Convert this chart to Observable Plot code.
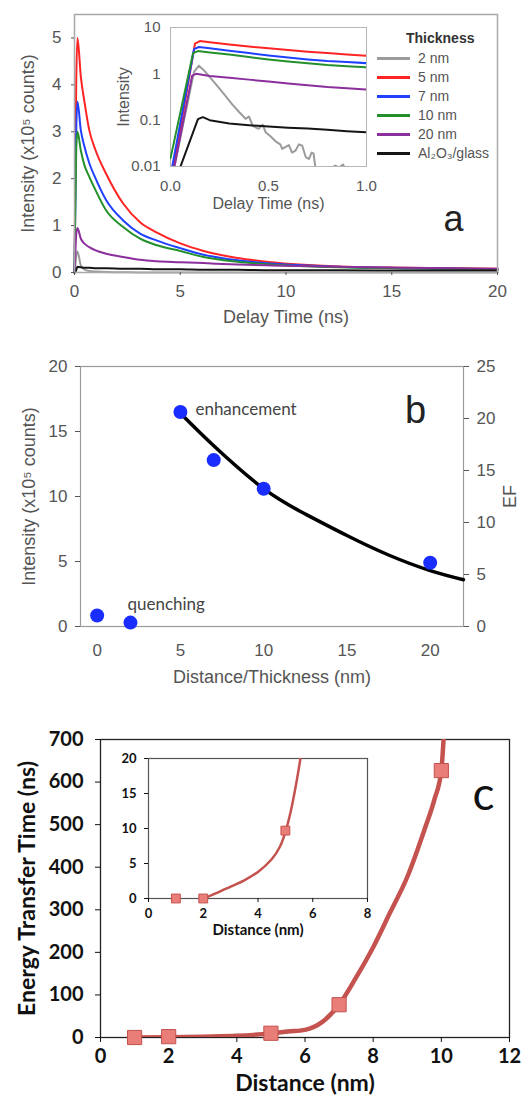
<!DOCTYPE html>
<html><head><meta charset="utf-8">
<script src="https://cdn.jsdelivr.net/npm/d3@7"></script>
<script src="https://cdn.jsdelivr.net/npm/@observablehq/plot@0.6"></script>
<style>
body{margin:0;background:#fff;}
#fig{position:relative;width:521px;height:1097px;overflow:hidden;background:#fff;}
.lg{position:absolute;font-family:"Liberation Sans",Arial,sans-serif;font-size:14px;color:#555;white-space:nowrap;line-height:16px;}
.lgline{position:absolute;height:3px;}
</style></head><body><div id="fig"></div>
<script>
// ---------- Panel a (main): decay curves, intensity x10^5 counts ----------
const seriesA = ["2 nm", "5 nm", "7 nm", "10 nm", "20 nm", "Al₂O₃/glass"];
const colorsA = ["#9b9b9b", "#ff2424", "#2040ff", "#24902c", "#8b2f9c", "#151515"];
const timeA = [0, 0.03, 0.08, 0.14, 0.3, 0.46, 0.7, 1.0, 1.5, 2.3, 3.1, 3.9, 5.0, 6.1, 7.7, 9.3, 12.5, 15.6, 20];
const nm2A   = [0, 0.1, 0.35, 0.45, 0.15, 0.07, 0.03, 0.02, 0.01, 0.005, 0, 0, 0, 0, 0, 0, 0, 0, 0];
const nm5A   = [0, 1.5, 4.0, 5.0, 4.17, 3.67, 3.03, 2.6, 2.1, 1.47, 1.07, 0.85, 0.62, 0.46, 0.31, 0.22, 0.13, 0.1, 0.08];
const nm7A   = [0, 1.2, 3.0, 3.64, 3.03, 2.7, 2.33, 2.0, 1.54, 1.11, 0.83, 0.68, 0.52, 0.38, 0.26, 0.19, 0.12, 0.09, 0.07];
const nm10A  = [0, 1.0, 2.6, 3.0, 2.6, 2.3, 2.04, 1.75, 1.32, 0.97, 0.72, 0.58, 0.46, 0.33, 0.23, 0.17, 0.11, 0.09, 0.07];
const nm20A  = [0, 0.3, 0.8, 0.95, 0.72, 0.62, 0.54, 0.47, 0.4, 0.33, 0.27, 0.24, 0.22, 0.2, 0.17, 0.15, 0.12, 0.1, 0.08];
const glassA = [0, 0, 0.05, 0.12, 0.11, 0.1, 0.1, 0.09, 0.09, 0.08, 0.08, 0.07, 0.07, 0.06, 0.06, 0.05, 0.05, 0.04, 0.04];
const xTicksA = [0, 5, 10, 15, 20];
const yTicksA = [0, 1, 2, 3, 4, 5];

// ---------- Panel a (inset): log intensity, 0-1 ns ----------
const nm2InT  = [0.02, 0.12, 0.145, 0.17, 0.23, 0.27, 0.315, 0.35, 0.383, 0.40, 0.42, 0.45, 0.47, 0.485, 0.51, 0.536, 0.56, 0.57, 0.604, 0.62, 0.638, 0.655, 0.672, 0.69, 0.706, 0.72, 0.73, 0.74, 0.82, 0.84, 0.86, 0.88, 0.9];
const nm2InV  = [0.01, 1.1, 1.5, 1.2, 0.61, 0.38, 0.22, 0.15, 0.107, 0.12, 0.075, 0.065, 0.08, 0.055, 0.045, 0.035, 0.03, 0.024, 0.029, 0.02, 0.022, 0.03, 0.028, 0.016, 0.0145, 0.02, 0.019, 0.009, 0.009, 0.0105, 0.0095, 0.011, 0.008];
const nm5InT  = [0.017, 0.125, 0.15, 0.2, 0.3, 0.4, 0.5, 0.6, 0.7, 0.8, 0.9, 1.0];
const nm5InV  = [0.01, 4.5, 5.1, 4.8, 4.3, 3.9, 3.55, 3.25, 3.0, 2.8, 2.6, 2.45];
const nm7InT  = [0.009, 0.12, 0.145, 0.2, 0.3, 0.4, 0.5, 0.6, 0.7, 0.8, 0.9, 1.0];
const nm7InV  = [0.01, 3.4, 3.8, 3.55, 3.15, 2.8, 2.5, 2.25, 2.05, 1.9, 1.8, 1.7];
const nm10InT = [0.0, 0.115, 0.14, 0.2, 0.3, 0.4, 0.5, 0.6, 0.7, 0.8, 0.9, 1.0];
const nm10InV = [0.015, 2.8, 3.1, 2.9, 2.6, 2.3, 2.05, 1.85, 1.7, 1.55, 1.45, 1.38];
const nm20InT = [0.02, 0.11, 0.13, 0.2, 0.3, 0.4, 0.5, 0.6, 0.7, 0.8, 0.9, 1.0];
const nm20InV = [0.01, 0.9, 1.0, 0.9, 0.82, 0.75, 0.68, 0.62, 0.57, 0.52, 0.49, 0.46];
const glassInT = [0.051, 0.14, 0.165, 0.2, 0.3, 0.4, 0.5, 0.6, 0.7, 0.8, 0.9, 1.0];
const glassInV = [0.01, 0.105, 0.116, 0.1, 0.085, 0.078, 0.073, 0.069, 0.066, 0.062, 0.058, 0.055];
const xTicksIn = [0, 0.5, 1.0];
const yTicksIn = [0.01, 0.1, 1, 10];

// ---------- Panel b ----------
const distB = [0, 2, 5, 7, 10, 20];
const intensityB = [0.85, 0.3, 16.5, 12.8, 10.6, 4.9];
const noteB = ["", "quenching", "enhancement", "", "", ""];
const fitXB = [5, 7, 10, 12.5, 15, 17.5, 20, 22];
const fitYB = [16.4, 13.9, 10.6, 8.65, 7.0, 5.5, 4.3, 3.6];
const xTicksB = [0, 5, 10, 15, 20];
const yTicksB = [0, 5, 10, 15, 20];
const efTicksB = [0, 5, 10, 15, 20, 25];

// ---------- Panel c ----------
const distC = [1, 2, 5, 7, 10];
const timeC = [0, 2, 10, 77, 627];
const fitXC = [1, 2, 3, 4, 5, 5.5, 6, 6.5, 7, 7.5, 8, 8.5, 9, 9.5, 9.8, 10, 10.05, 10.08];
const fitYC = [0, 0.5, 2, 4, 9.7, 14, 18, 36, 77, 141, 212, 294, 377, 487, 560, 627, 680, 720];
const xTicksC = [0, 2, 4, 6, 8, 10, 12];
const yTicksC = [0, 100, 200, 300, 400, 500, 600, 700];
// inset c
const distCin = [1, 2, 5];
const timeCin = [0, 0, 9.7];
const fitXCin = [2, 2.5, 3, 3.5, 4, 4.5, 4.8, 5, 5.2, 5.4, 5.55];
const fitYCin = [0, 0.8, 1.7, 2.6, 3.8, 5.6, 7.4, 9.5, 12.5, 16.5, 20];
const xTicksCin = [0, 2, 4, 6, 8];
const yTicksCin = [0, 5, 10, 15, 20];

// ---------- build tables ----------
const valuesA = [nm2A, nm5A, nm7A, nm10A, nm20A, glassA];
const dataA = [];
seriesA.forEach((s, i) => timeA.forEach((t, j) => dataA.push({s, t, v: valuesA[i][j]})));
const inT = [nm2InT, nm5InT, nm7InT, nm10InT, nm20InT, glassInT];
const inV = [nm2InV, nm5InV, nm7InV, nm10InV, nm20InV, glassInV];
const dataIn = [];
seriesA.forEach((s, i) => inT[i].forEach((t, j) => dataIn.push({s, t, v: inV[i][j]})));
const pointsB = distB.map((x, i) => ({x, y: intensityB[i], note: noteB[i]}));
const fitB = fitXB.map((x, i) => ({x, y: fitYB[i]}));
const pointsC = distC.map((x, i) => ({x, y: timeC[i]}));
const fitC = fitXC.map((x, i) => ({x, y: fitYC[i]}));
const pointsCin = distCin.map((x, i) => ({x, y: timeCin[i]}));
const fitCin = fitXCin.map((x, i) => ({x, y: fitYCin[i]}));

const fig = document.getElementById("fig");
function place(el, left, top) {
  el.style.position = "absolute"; el.style.left = left + "px"; el.style.top = top + "px";
  fig.appendChild(el);
}
const SANS = '"Liberation Sans", Arial, sans-serif';
const colorA = {domain: seriesA, range: colorsA};

// Panel a main
place(Plot.plot({
  width: 521, height: 330, marginLeft: 74, marginRight: 24, marginTop: 14, marginBottom: 58,
  style: {fontFamily: SANS, fontSize: "17px", color: "#555", background: "white", overflow: "visible"},
  x: {domain: [0, 20]}, y: {domain: [0, 5.5]}, color: colorA,
  marks: [
    Plot.line(dataA, {x: "t", y: "v", z: "s", stroke: "s", strokeWidth: 2, curve: "monotone-x"}),
    Plot.frame({stroke: "#a9a9a9", strokeWidth: 1.5}),
    Plot.axisX(xTicksA, {tickSize: 3, tickPadding: 9, fontSize: 17, label: null}),
    Plot.axisY(yTicksA, {tickSize: 3, tickPadding: 10, fontSize: 17, label: null}),
    Plot.text(["Delay Time (ns)"], {frameAnchor: "bottom", lineAnchor: "middle", dy: 45, fontSize: 18}),
    Plot.text(["Intensity (x10⁵ counts)"], {frameAnchor: "left", textAnchor: "middle", lineAnchor: "middle", rotate: -90, dx: -46, fontSize: 18}),
    Plot.text(["a"], {frameAnchor: "bottom-right", textAnchor: "middle", lineAnchor: "middle", dx: -44, dy: -53, fontSize: 36, fill: "#222"})
  ]
}), 0, 0);

// Panel a inset
place(Plot.plot({
  width: 262, height: 200, marginLeft: 60, marginRight: 6, marginTop: 9, marginBottom: 52,
  style: {fontFamily: SANS, fontSize: "15px", color: "#555", background: "transparent", overflow: "visible"},
  x: {domain: [0, 1]}, y: {type: "log", domain: [0.01, 10]}, color: colorA,
  marks: [
    Plot.frame({stroke: "#b5b5b5", fill: "white"}),
    Plot.line(dataIn, {x: "t", y: "v", z: "s", stroke: "s", strokeWidth: 2, curve: "linear", clip: true}),
    Plot.axisX(xTicksIn, {tickSize: 0, tickPadding: 14, fontSize: 15, tickFormat: d3.format(".1f"), label: null}),
    Plot.axisY(yTicksIn, {tickSize: 0, tickPadding: 10, fontSize: 15, tickFormat: d => String(d), label: null}),
    Plot.text(["Delay Time (ns)"], {frameAnchor: "bottom", lineAnchor: "middle", dy: 37, fontSize: 16}),
    Plot.text(["Intensity"], {frameAnchor: "left", textAnchor: "middle", lineAnchor: "middle", rotate: -90, dx: -47, fontSize: 16})
  ]
}), 110, 18);

// Legend (panel a)
(function () {
  const head = document.createElement("div");
  head.className = "lg"; head.textContent = "Thickness";
  head.style.fontWeight = "bold"; head.style.color = "#333";
  head.style.left = "406px"; head.style.top = "30px";
  fig.appendChild(head);
  seriesA.forEach((s, i) => {
    const y = 58 + i * 19;
    const ln = document.createElement("div");
    ln.className = "lgline"; ln.style.background = colorsA[i];
    ln.style.left = "377px"; ln.style.width = "33px"; ln.style.top = (y - 1) + "px";
    fig.appendChild(ln);
    const tx = document.createElement("div");
    tx.className = "lg"; tx.textContent = s;
    tx.style.left = "418px"; tx.style.top = (y - 8) + "px";
    fig.appendChild(tx);
  });
})();

// Panel b
place(Plot.plot({
  width: 521, height: 365, marginLeft: 80, marginRight: 58, marginTop: 36, marginBottom: 69,
  style: {fontFamily: SANS, fontSize: "16px", color: "#555", background: "white", overflow: "visible"},
  x: {domain: [-1, 22]}, y: {domain: [0, 20]},
  marks: [
    Plot.frame({stroke: "#9a9a9a", strokeWidth: 1.2}),
    Plot.axisY(yTicksB, {anchor: "left", tickSize: 5, tickPadding: 8, fontSize: 17, label: null}),
    Plot.axisY(efTicksB.map(e => e * 20 / 25), {anchor: "right", tickSize: 5, tickPadding: 8, fontSize: 17, tickFormat: d => Math.round(d * 25 / 20), label: null}),
    Plot.axisX(xTicksB, {tickSize: 0, tickPadding: 17, fontSize: 17, label: null}),
    Plot.line(fitB, {x: "x", y: "y", stroke: "#000", strokeWidth: 3.5, curve: "natural"}),
    Plot.dot(pointsB, {x: "x", y: "y", r: 7, fill: "#1a2dff"}),
    Plot.text(pointsB.filter(d => d.note === "enhancement"), {x: "x", y: "y", text: "note", textAnchor: "start", dx: 15, dy: -2, fontSize: 17, fontFamily: "Lato, sans-serif", fill: "#444"}),
    Plot.text(pointsB.filter(d => d.note === "quenching"), {x: "x", y: "y", text: "note", textAnchor: "start", dx: -3, dy: -18, fontSize: 17, fontFamily: "Lato, sans-serif", fill: "#444"}),
    Plot.text(["Distance/Thickness (nm)"], {frameAnchor: "bottom", lineAnchor: "middle", dy: 51, fontSize: 18}),
    Plot.text(["Intensity (x10⁵ counts)"], {frameAnchor: "left", textAnchor: "middle", lineAnchor: "middle", rotate: -90, dx: -51, fontSize: 18}),
    Plot.text(["EF"], {frameAnchor: "right", textAnchor: "middle", lineAnchor: "middle", rotate: -90, dx: 47, fontSize: 18}),
    Plot.text(["b"], {frameAnchor: "top-right", textAnchor: "middle", lineAnchor: "middle", dx: -48, dy: 44, fontSize: 38, fill: "#222"})
  ]
}), 0, 330);

// Panel c main
const BOLD = "Lato, sans-serif";
place(Plot.plot({
  width: 521, height: 397, marginLeft: 100, marginRight: 12, marginTop: 39, marginBottom: 60,
  style: {fontFamily: BOLD, fontSize: "20px", color: "#111", background: "white", overflow: "visible"},
  x: {domain: [0, 12]}, y: {domain: [0, 700]},
  marks: [
    Plot.frame({stroke: "#222", strokeWidth: 1.3}),
    Plot.axisX(xTicksC, {tickSize: 5, tickPadding: 6, fontSize: 20, fontWeight: "bold", label: null}),
    Plot.axisY(yTicksC, {tickSize: 5, tickPadding: 12, fontSize: 20, fontWeight: "bold", label: null}),
    Plot.line(fitC, {x: "x", y: "y", stroke: "#c4524e", strokeWidth: 4.5, curve: "monotone-x", clip: true}),
    Plot.dot(pointsC, {x: "x", y: "y", symbol: "square", r: 8, fill: "#e97d78", stroke: "#c4524e", strokeWidth: 1}),
    Plot.text(["Distance (nm)"], {frameAnchor: "bottom", lineAnchor: "middle", dy: 46, fontSize: 23, fontWeight: "bold"}),
    Plot.text(["Energy Transfer Time (ns)"], {frameAnchor: "left", textAnchor: "middle", lineAnchor: "middle", rotate: -90, dx: -73, fontSize: 23, fontWeight: "bold"}),
    Plot.text(["c"], {frameAnchor: "top-right", textAnchor: "middle", lineAnchor: "middle", dx: -26, dy: 56, fontSize: 46, fill: "#111"})
  ]
}), 0, 700);

// Panel c inset
place(Plot.plot({
  width: 275, height: 195, marginLeft: 48, marginRight: 8, marginTop: 10, marginBottom: 45,
  style: {fontFamily: BOLD, fontSize: "13px", color: "#111", background: "transparent", overflow: "visible"},
  x: {domain: [0, 8]}, y: {domain: [0, 20]},
  marks: [
    Plot.frame({stroke: "#555", strokeWidth: 1.2}),
    Plot.axisX(xTicksCin, {tickSize: 4, tickPadding: 6, fontSize: 13, fontWeight: "bold", label: null}),
    Plot.axisY(yTicksCin, {tickSize: 4, tickPadding: 8, fontSize: 13, fontWeight: "bold", label: null}),
    Plot.line(fitCin, {x: "x", y: "y", stroke: "#c4524e", strokeWidth: 2.5, curve: "catmull-rom", clip: true}),
    Plot.dot(pointsCin, {x: "x", y: "y", symbol: "square", r: 5, fill: "#e97d78", stroke: "#c4524e", strokeWidth: 1}),
    Plot.text(["Distance (nm)"], {frameAnchor: "bottom", lineAnchor: "middle", dy: 32, fontSize: 15, fontWeight: "bold"})
  ]
}), 100, 748);
</script></body></html>
